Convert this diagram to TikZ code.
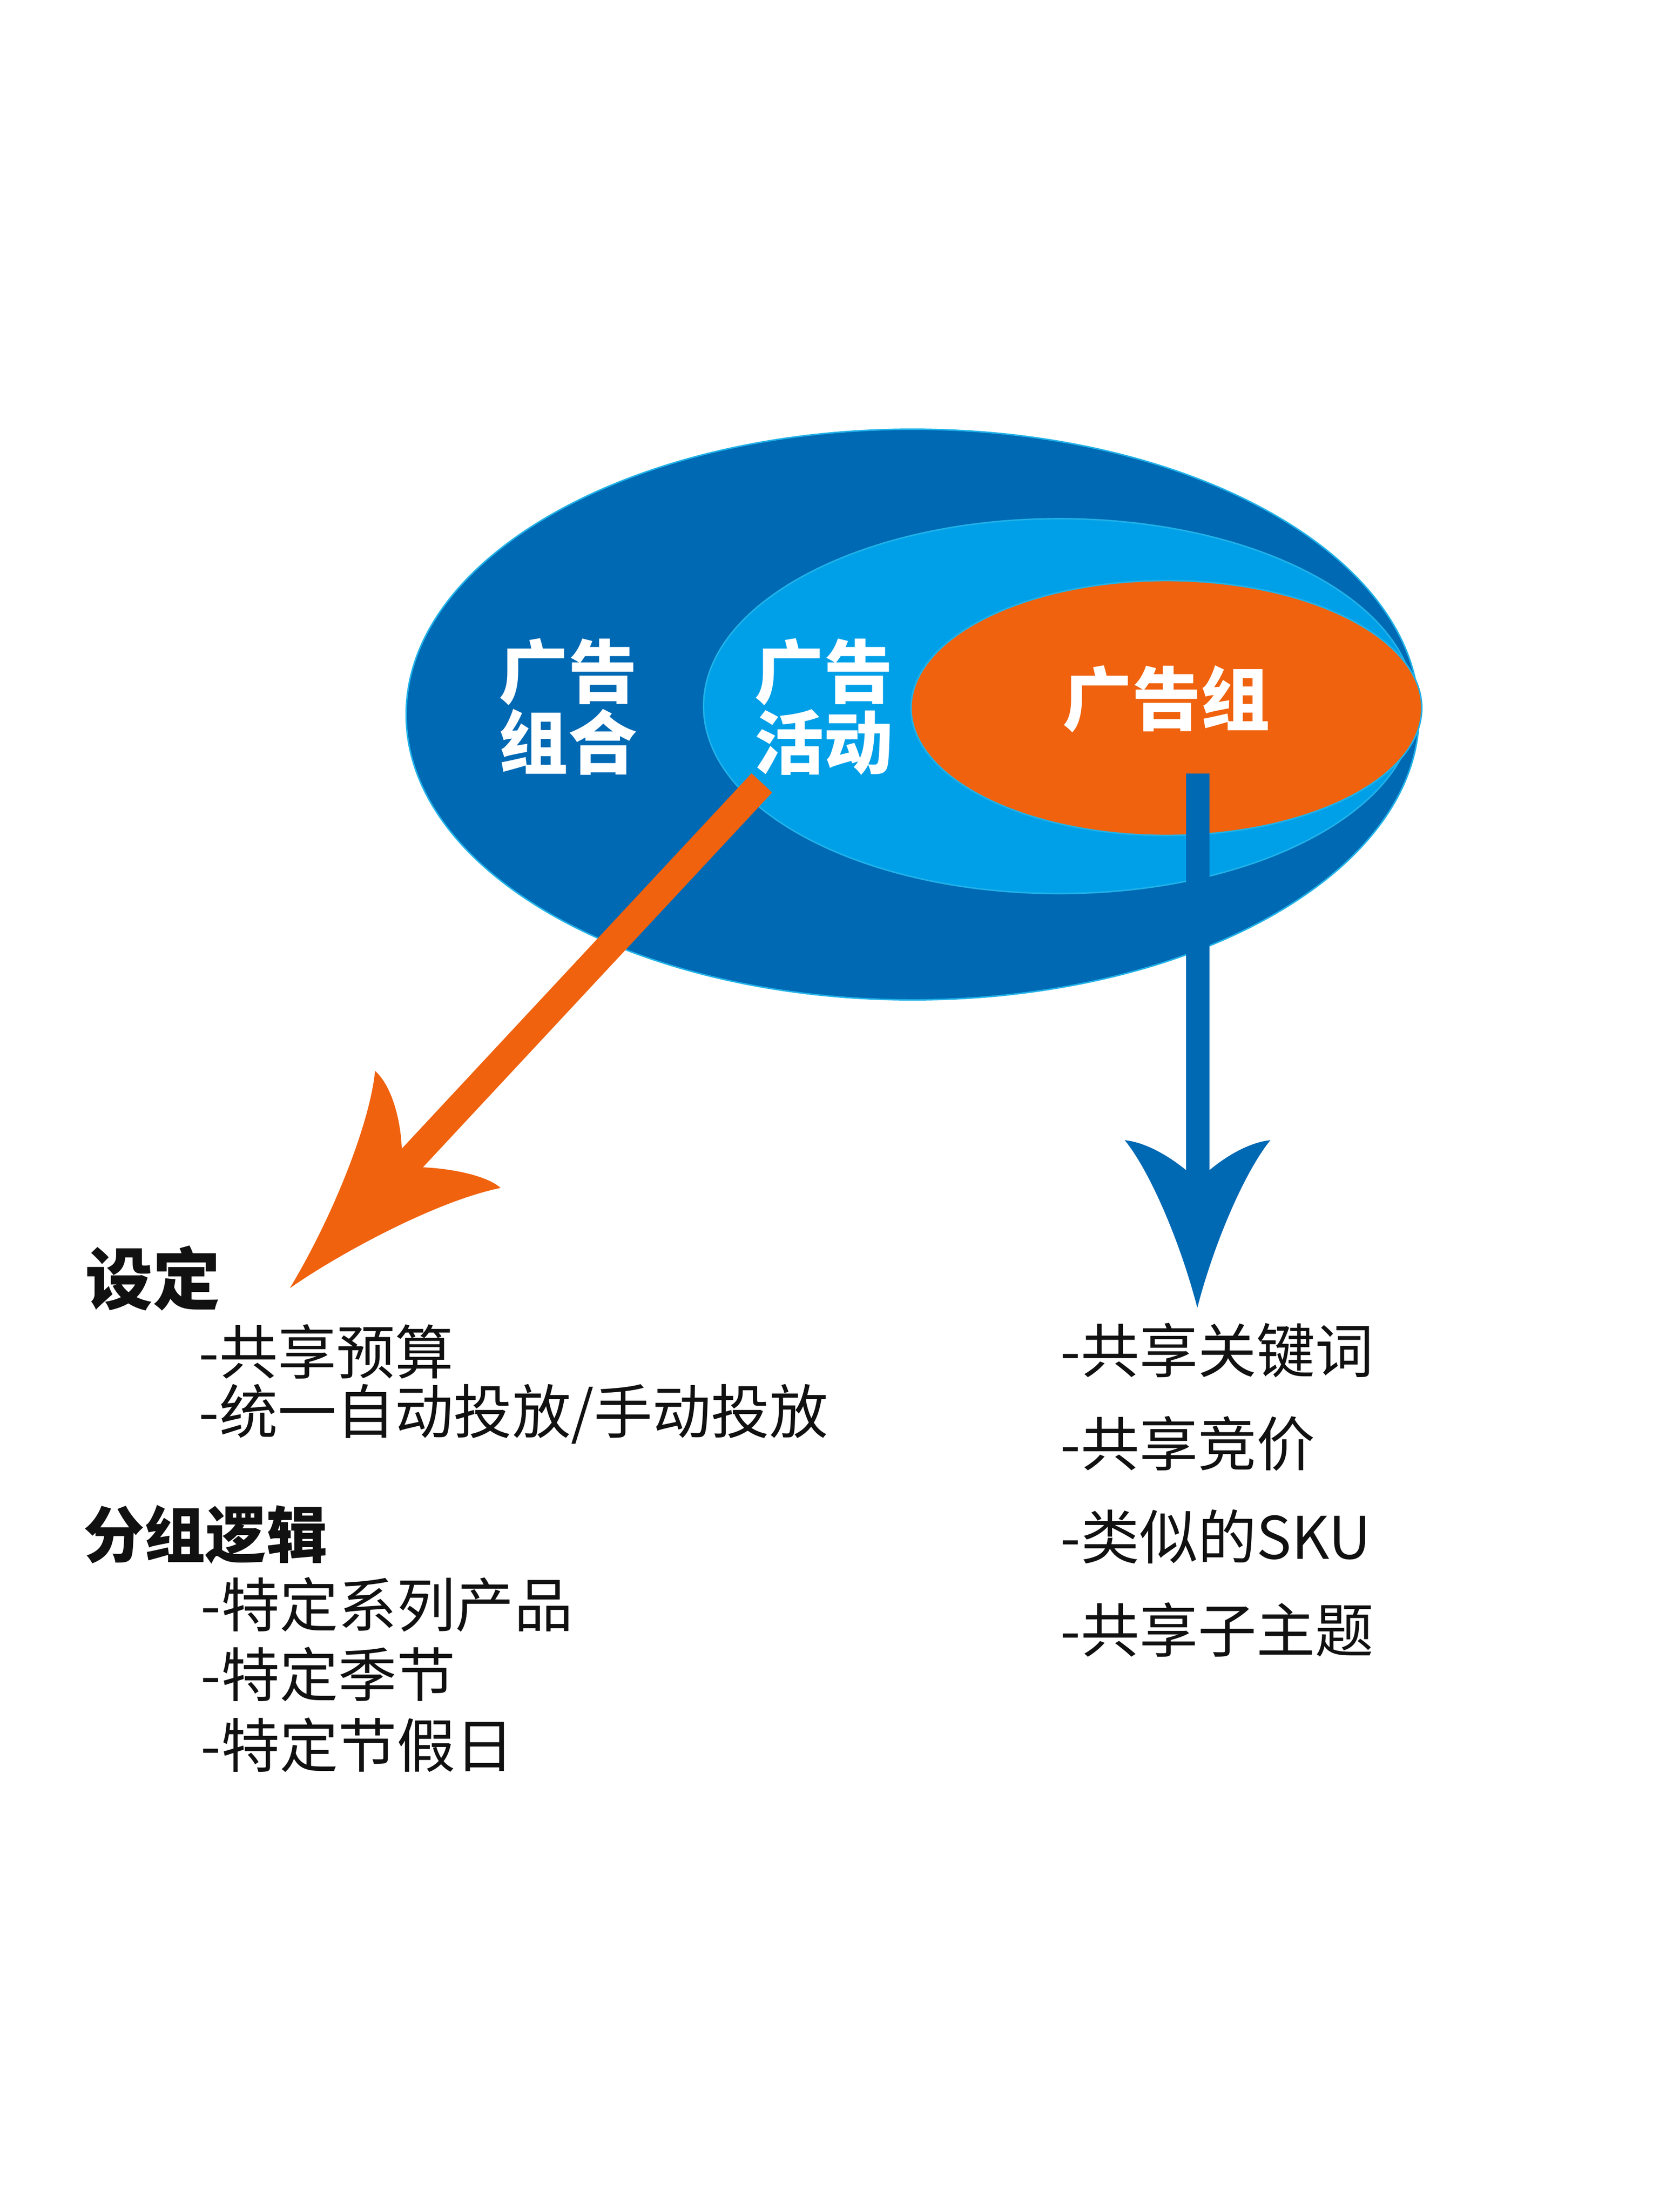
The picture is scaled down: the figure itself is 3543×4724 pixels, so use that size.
\documentclass[tikz,border=0pt]{standalone}
\usepackage{fontspec}
\newfontfamily\cjk{Noto Sans CJK SC}
\usetikzlibrary{shapes.geometric}
\definecolor{dblue}{HTML}{0069B4}
\definecolor{lblue}{HTML}{00A0E9}
\definecolor{orng}{HTML}{F0620E}
\definecolor{edgec}{HTML}{20B2E8}
\definecolor{ink}{HTML}{111111}
\begin{document}
\begin{tikzpicture}[x=0.01cm,y=-0.01cm,
  ell/.style={ellipse, draw=edgec, line width=0.9pt, inner sep=0pt},
  lab/.style={text=white, font=\cjk\bfseries\fontsize{42}{43}\selectfont, align=center, inner sep=0pt},
  headtxt/.style={font=\cjk\bfseries, anchor=west, inner sep=0pt, text=ink},
  itemtxt/.style={font=\cjk\fontsize{35.6}{40}\selectfont, anchor=west, inner sep=0pt, text=ink}]
\useasboundingbox (0,0) rectangle (3543,4724);
% ellipses
\node[ell, fill=dblue, minimum width=21.62cm, minimum height=12.18cm] (outer) at (1949,1526) {};
\node[ell, fill=lblue, minimum width=15.18cm, minimum height=8.0cm] (mid) at (2262,1508) {};
\node[ell, fill=orng, minimum width=10.9cm, minimum height=5.44cm] (inner) at (2491,1512) {};
% labels
\node[lab] (l1) at (1213,1509) {广告\\组合};
\node[lab] (l2) at (1759,1509) {广告\\活动};
\node[lab] (l3) at (2491,1493) {广告组};
% orange arrow
\coordinate (os) at (1627,1672);
\coordinate (oe) at (862,2493);
\draw[orng, line width=17.1pt] (os) -- (oe);
\fill[orng] (858,2453) .. controls (856,2395) and (838,2320) .. (801,2287)
  .. controls (790,2400) and (710,2600) .. (619,2751)
  .. controls (720,2680) and (930,2565) .. (1069,2537)
  .. controls (1040,2510) and (960,2495) .. (903,2493) -- cycle;
% blue arrow
\coordinate (bs) at (2558,1652);
\coordinate (be) at (2558,2510);
\draw[dblue, line width=14.2pt] (bs) -- (be);
\fill[dblue] (2533,2499) .. controls (2500,2472) and (2450,2440) .. (2402,2435)
  .. controls (2455,2500) and (2520,2650) .. (2557,2793)
  .. controls (2594,2650) and (2660,2500) .. (2713,2435)
  .. controls (2665,2440) and (2615,2472) .. (2583,2499) -- cycle;
% left text
\node[headtxt, font=\cjk\bfseries\fontsize{41}{45}\selectfont] (h1) at (182,2730) {设定};
\node[itemtxt] (a1) at (424,2887) {-共享预算};
\node[itemtxt] (a2) at (424,3020) {-统一自动投放/手动投放};
\node[headtxt, font=\cjk\bfseries\fontsize{37}{40}\selectfont] (h2) at (178,3277) {分组逻辑};
\node[itemtxt] (b1) at (428,3427) {-特定系列产品};
\node[itemtxt] (b2) at (428,3576) {-特定季节};
\node[itemtxt] (b3) at (428,3727) {-特定节假日};
% right text
\node[itemtxt] (c1) at (2264,2884) {-共享关键词};
\node[itemtxt] (c2) at (2264,3083) {-共享竞价};
\node[itemtxt] (c3) at (2264,3282) {-类似的SKU};
\node[itemtxt] (c4) at (2264,3481) {-共享子主题};
\end{tikzpicture}
\end{document}
